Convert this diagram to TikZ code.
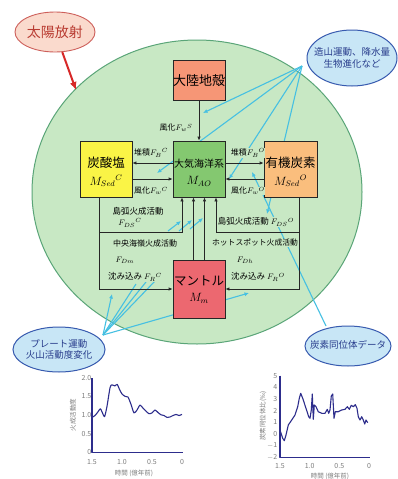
\documentclass[tikz,border=0pt]{standalone}
\usepackage{fontspec}
\newfontfamily\jp{Noto Sans CJK JP}
\usetikzlibrary{shapes.geometric,arrows.meta}
\pgfdeclarelayer{background}
\pgfsetlayers{background,main}
\definecolor{bggreen}{RGB}{200,232,196}
\definecolor{circb}{RGB}{90,165,120}
\definecolor{crustc}{RGB}{246,150,118}
\definecolor{maoc}{RGB}{132,200,112}
\definecolor{carbc}{RGB}{250,244,70}
\definecolor{orgc}{RGB}{250,190,125}
\definecolor{mantc}{RGB}{236,104,112}
\definecolor{cyanl}{RGB}{70,192,226}
\definecolor{bubf}{RGB}{200,230,246}
\definecolor{bubb}{RGB}{55,90,175}
\definecolor{bubt}{RGB}{40,60,140}
\definecolor{sunf}{RGB}{250,218,205}
\definecolor{sunb}{RGB}{205,95,90}
\definecolor{sunt}{RGB}{185,60,50}
\definecolor{sunarr}{RGB}{215,40,40}
\definecolor{plotc}{RGB}{45,45,140}
\definecolor{tickc}{RGB}{125,125,125}
\begin{document}
\begin{tikzpicture}[x=1pt,y=-1pt,font=\jp,
  box/.style={draw=black!85,line width=0.8pt,minimum width=52pt,minimum height=56pt,inner sep=0pt},
  arr/.style={-{Latex[length=4pt,width=3.5pt]},line width=0.8pt,black!85},
  lbl/.style={font=\jp\fontsize{8}{9}\selectfont,inner sep=0.4pt,fill=bggreen},
  big/.style={font=\jp\fontsize{12.5}{13}\selectfont,inner sep=0pt},
  mth/.style={font=\fontsize{12}{12}\selectfont,inner sep=0pt},
  cy/.style={cyanl,line width=1.1pt},
  cya/.style={cy,-{Latex[length=4.5pt,width=4pt]}},
  bub/.style={ellipse,draw=bubb,line width=1pt,fill=bubf,inner sep=0pt},
  bubtxt/.style={text=bubt,align=center,font=\jp\fontsize{9.5}{11.5}\selectfont,inner sep=0pt},
  tk/.style={text=tickc,font=\jp\fontsize{7}{7}\selectfont,inner sep=0.5pt},
  axl/.style={text=tickc,font=\jp\fontsize{6.5}{7}\selectfont,inner sep=0pt},
  plt/.style={plotc,line width=1.1pt,line join=round}]
\useasboundingbox (0,0) rectangle (398,479);
\begin{pgfonlayer}{background}
\fill[white] (0,0) rectangle (398,479);
\draw[circb,fill=bggreen,line width=1pt] (197,192) ellipse [x radius=165pt,y radius=152pt];
\end{pgfonlayer}

% sun
\node[ellipse,draw=sunb,fill=sunf,line width=0.9pt,minimum width=80pt,minimum height=40pt] (sun) at (55,32) {};
\node[text=sunt,font=\jp\fontsize{14}{14}\selectfont] (suntxt) at (55,32) {太陽放射};
\coordinate (sunend) at (76,90);
\draw[sunarr,line width=2pt,-{Latex[length=8pt,width=7pt]}] (sun) -- (sunend);

% boxes
\node[box,fill=crustc,minimum height=40pt] (crust) at (199,80) {};
\node[font=\jp\fontsize{13}{13}\selectfont,inner sep=0pt] (crustt) at (199,81) {大陸地殻};
\node[box,fill=carbc] (carb) at (106,169) {};
\node[big] (carbt) at (106,163) {炭酸塩};
\node[mth] (carbm) at (106,181) {$M_{Sed}{}^{C}$};
\node[box,fill=maoc] (mao) at (199,169) {};
\node[font=\jp\fontsize{10}{11}\selectfont,inner sep=0pt] (maot) at (199,164) {大気海洋系};
\node[mth] (maom) at (199,181) {$M_{AO}$};
\node[box,fill=orgc,minimum width=53pt] (org) at (290.5,169) {};
\node[big] (orgt) at (290.5,163) {有機炭素};
\node[mth] (orgm) at (290.5,181) {$M_{Sed}{}^{O}$};
\node[box,fill=mantc,minimum height=58pt] (mant) at (199,289) {};
\node[big] (mantt) at (199,281) {マントル};
\node[mth] (mantm) at (199,298) {$M_m$};

% bubbles
\node[bub,minimum width=90pt,minimum height=56pt] (tb) at (352,58) {};
\node[bubtxt] (tbt) at (352,58) {造山運動、降水量\\生物進化など};
\node[bub,minimum width=92pt,minimum height=45pt] (bl) at (59,349.5) {};
\node[bubtxt] (blt) at (59,349.5) {プレート運動\\火山活動度変化};
\node[bub,minimum width=86pt,minimum height=40pt] (br) at (348,346) {};
\node[bubtxt] (brt) at (348,345) {炭素同位体データ};

% cyan lines (background)
\coordinate (tp) at (302,66);
\coordinate (c1) at (203,113);
\coordinate (c2) at (157,173);
\coordinate (c3) at (229,179);
\coordinate (c4) at (267,214);
\coordinate (bp) at (103,335);
\coordinate (d1) at (112,294);
\coordinate (d2) at (136,284);
\coordinate (d3) at (146,282);
\coordinate (d4) at (156,280);
\coordinate (d5) at (249,293);
\coordinate (bq) at (326,326);
\coordinate (e1) at (252,172);
\coordinate (h1s) at (168,231); \coordinate (h1e) at (181,221);
\coordinate (h2s) at (179,231); \coordinate (h2e) at (192,220);
\coordinate (h3s) at (190,229); \coordinate (h3e) at (203,218);
\begin{pgfonlayer}{background}
\draw[cya] (tp) -- (c1);
\draw[cya] (tp) -- (c2);
\draw[cya] (tp) -- (c3);
\draw[cya] (tp) -- (c4);
\draw[cya] (bp) -- (d1);
\draw[cy] (bp) -- (d2);
\draw[cy] (bp) -- (d3);
\draw[cy] (bp) -- (d4);
\draw[cya] (bp) -- (d5);
\draw[cya] (bq) -- (e1);
\draw[cya] (h1s) -- (h1e);
\draw[cya] (h2s) -- (h2e);
\draw[cya] (h3s) -- (h3e);
\end{pgfonlayer}

% labels
\node[lbl,anchor=east] (lws) at (193,128) {風化$F_{w}{}^{S}$};
\node[lbl] (lbc) at (151,153) {堆積$F_{B}{}^{C}$};
\node[lbl] (lwc) at (151,191) {風化$F_{w}{}^{C}$};
\node[lbl] (lbo) at (248,153) {堆積$F_{B}{}^{O}$};
\node[lbl] (lwo) at (248,191) {風化$F_{w}{}^{O}$};
\node[lbl,font=\jp\fontsize{8.5}{9}\selectfont] (ldsc1) at (138,211) {島弧火成活動};
\node[lbl] (ldsc2) at (130,223) {$F_{DS}{}^{C}$};
\node[lbl,font=\jp\fontsize{8.5}{9}\selectfont] (ldso) at (256,222) {島弧火成活動 $F_{DS}{}^{O}$};
\node[lbl] (ldm1) at (145,243) {中央海嶺火成活動};
\node[lbl] (ldm2) at (125,260) {$F_{Dm}$};
\node[lbl,font=\jp\fontsize{8.5}{9}\selectfont] (lrc) at (135,277) {沈み込み $F_{R}{}^{C}$};
\node[lbl,font=\jp\fontsize{7.8}{9}\selectfont] (ldh1) at (255,243) {ホットスポット火成活動};
\node[lbl] (ldh2) at (245,260) {$F_{Dh}$};
\node[lbl,font=\jp\fontsize{8.5}{9}\selectfont] (lro) at (258,277) {沈み込み $F_{R}{}^{O}$};

% black connectors
\draw[arr] (crust.south) -- (mao.north);
\draw[arr] ([yshift=6pt]mao.west) -- ([yshift=6pt]carb.east);
\draw[arr] ([yshift=-10pt]carb.east) -- ([yshift=-10pt]mao.west);
\draw[arr] ([yshift=6pt]mao.east) -- ([yshift=6pt]org.west);
\draw[arr] ([yshift=-10pt]org.west) -- ([yshift=-10pt]mao.east);
\coordinate (l1) at (99,232); \coordinate (l2) at (182,232); \coordinate (l3) at (99,289);
\coordinate (r1) at (299,232); \coordinate (r2) at (216,232); \coordinate (r3) at (299,289);
\draw[arr] ([xshift=-7pt]carb.south) -- (l1) -- (l2) -- ([xshift=-17pt]mao.south);
\draw[arr] (l1) -- (l3) -- (mant.west);
\draw[arr] ([xshift=8.5pt]org.south) -- (r1) -- (r2) -- ([xshift=17pt]mao.south);
\draw[arr] (r1) -- (r3) -- (mant.east);
\draw[arr] ([xshift=-5.5pt]mant.north) -- ([xshift=-5.5pt]mao.south);
\draw[arr] ([xshift=5.5pt]mant.north) -- ([xshift=5.5pt]mao.south);

% left chart
\draw[plt] (92,378) -- (92,452.5) -- (183,452.5);
\node[tk,anchor=east] (ly0) at (92,378) {2.0};
\node[tk,anchor=east] (ly1) at (92,396.5) {1.5};
\node[tk,anchor=east] (ly2) at (92,415) {1.0};
\node[tk,anchor=east] (ly3) at (92,433.5) {0.5};
\node[tk,anchor=east] (ly4) at (92,452) {0};
\node[tk] (lx0) at (92,462) {1.5};
\node[tk] (lx1) at (122,462) {1.0};
\node[tk] (lx2) at (152,462) {0.5};
\node[tk] (lx3) at (182,462) {0};
\node[axl] (lxl) at (134,473) {時間 (億年前)};
\node[axl,rotate=90] (lyl) at (73,415) {火成活動度};
\draw[plt] plot[smooth,tension=0.4] coordinates {(92,417.4) (95,415.5) (98,411.8) (100.4,408.8) (102.8,413.7) (104.6,416.6) (107,406.3) (110,387.8) (111.8,384.8) (114.8,385.9) (117.2,384.4) (119.6,389.6) (122,394) (125,396.3) (128,397) (131,404.4) (134,412.9) (137,410) (140,405.1) (143,408.1) (146,411.1) (149,413.7) (152,412.9) (155,410) (158,412.5) (161,414.8) (164,415.5) (167,417.4) (170,417) (173,415.5) (176,414.4) (179,415.5) (182,414.4)};

% right chart
\draw[plt] (280,375.7) -- (280,457.3) -- (370,457.3);
\node[tk,anchor=east] (ry5) at (278,375.7) {5};
\node[tk,anchor=east] (ry4) at (278,387.4) {4};
\node[tk,anchor=east] (ry3) at (278,399) {3};
\node[tk,anchor=east] (ry2) at (278,410.7) {2};
\node[tk,anchor=east] (ry1) at (278,422.3) {1};
\node[tk,anchor=east] (ry0) at (278,434) {0};
\node[tk,anchor=east] (rym1) at (278,445.7) {$-$1};
\node[tk,anchor=east] (rym2) at (278,457.3) {$-$2};
\node[tk] (rx0) at (280,466) {1.5};
\node[tk] (rx1) at (309.7,466) {1.0};
\node[tk] (rx2) at (339.3,466) {0.5};
\node[tk] (rx3) at (369,466) {0};
\node[axl] (rxl) at (330,476) {時間 (億年前)};
\node[axl,rotate=90] (ryl) at (263,416) {炭素同位体比(‰)};
\draw[plt] (280,430) -- (282.7,438.3) -- (284.3,440.7) -- (286,435) -- (288.3,425) -- (291.7,420) -- (295,415) -- (297.7,406.7) -- (299.3,398.3) -- (300.7,393.3) -- (302.7,398.3) -- (306,408.3) -- (308.7,416.7) -- (310,418.3) -- (311.3,410) -- (312.3,394) -- (313.3,419.3) -- (314.3,405) -- (316,406.7) -- (318.3,411.7) -- (321.7,413.3) -- (325,413.3) -- (327.3,409.3) -- (328.7,413.3) -- (330,410) -- (331.3,396) -- (332.7,394) -- (334,418.3) -- (335.3,411.7) -- (338.3,411.7) -- (341.7,410) -- (345,409.3) -- (347.3,406.7) -- (349.3,409.3) -- (351.3,405.3) -- (353.3,406.7) -- (355.3,404.7) -- (357,408.3) -- (358.3,416.7) -- (360,420) -- (361.7,416.7) -- (363.3,420) -- (364.7,424) -- (366,420) -- (367.7,422.7);
\end{tikzpicture}
\end{document}
